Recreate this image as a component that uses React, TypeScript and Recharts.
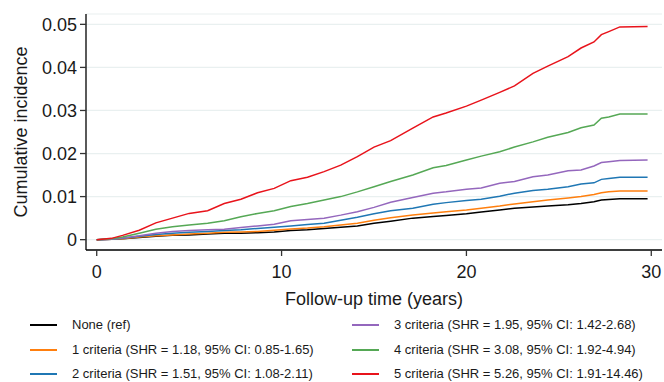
import React from "react";
import { LineChart, Line, XAxis, YAxis, CartesianGrid } from "recharts";

const times = [0, 0.8, 1.4, 2.3, 3.2, 4.1, 5.0, 6.0, 6.9, 7.8, 8.7, 9.6, 10.5, 11.4, 12.3, 13.2, 14.1, 15.0, 15.9, 17.1, 18.2, 18.9, 20.0, 20.8, 21.8, 22.6, 23.6, 24.4, 25.5, 26.2, 26.9, 27.3, 27.7, 28.3, 29.8];

const none = [0, 0.0001, 0.0002, 0.0005, 0.0008, 0.001, 0.0011, 0.0013, 0.0015, 0.0015, 0.0016, 0.0018, 0.0021, 0.0023, 0.0026, 0.0029, 0.0032, 0.0038, 0.0043, 0.005, 0.0054, 0.0056, 0.006, 0.0064, 0.0069, 0.0073, 0.0076, 0.0078, 0.0081, 0.0084, 0.0088, 0.0092, 0.0093, 0.0095, 0.0095];
const c1 = [0, 0.0001, 0.0002, 0.0006, 0.0009, 0.0011, 0.0013, 0.0015, 0.0017, 0.0018, 0.0019, 0.0022, 0.0025, 0.0027, 0.003, 0.0034, 0.0038, 0.0045, 0.0051, 0.0057, 0.0062, 0.0065, 0.0069, 0.0073, 0.0078, 0.0083, 0.0088, 0.0092, 0.0097, 0.01, 0.0105, 0.0109, 0.0111, 0.0113, 0.0113];
const c2 = [0, 0.0001, 0.0003, 0.0008, 0.0012, 0.0015, 0.0017, 0.0019, 0.0021, 0.0023, 0.0026, 0.0029, 0.0032, 0.0035, 0.0038, 0.0045, 0.0052, 0.006, 0.0067, 0.0073, 0.0082, 0.0086, 0.0091, 0.0094, 0.0101, 0.0108, 0.0114, 0.0117, 0.0123, 0.0129, 0.0132, 0.014, 0.0142, 0.0145, 0.0145];
const c3 = [0, 0.0001, 0.0004, 0.0009, 0.0015, 0.0019, 0.0021, 0.0023, 0.0024, 0.0028, 0.0032, 0.0036, 0.0044, 0.0047, 0.005, 0.0057, 0.0065, 0.0075, 0.0087, 0.0098, 0.0108, 0.0111, 0.0117, 0.012, 0.0131, 0.0135, 0.0146, 0.015, 0.016, 0.0162, 0.0171, 0.0179, 0.0181, 0.0184, 0.0185];
const c4 = [0, 0.0002, 0.0006, 0.0015, 0.0024, 0.003, 0.0034, 0.0038, 0.0044, 0.0053, 0.0061, 0.0067, 0.0077, 0.0084, 0.0092, 0.01, 0.0111, 0.0123, 0.0135, 0.015, 0.0167, 0.0172, 0.0185, 0.0194, 0.0204, 0.0215, 0.0227, 0.0238, 0.0249, 0.026, 0.0266, 0.0282, 0.0285, 0.0292, 0.0292];
const c5 = [0, 0.0003, 0.001, 0.0022, 0.0039, 0.005, 0.0061, 0.0067, 0.0084, 0.0094, 0.0109, 0.0119, 0.0137, 0.0145, 0.0158, 0.0173, 0.0193, 0.0215, 0.023, 0.0259, 0.0285, 0.0294, 0.031, 0.0324, 0.0342, 0.0357, 0.0386, 0.0403, 0.0425, 0.0445, 0.0459, 0.0476, 0.0483, 0.0494, 0.0495];

const seriesKeys = ["none", "c1", "c2", "c3", "c4", "c5"];
const seriesValues = [none, c1, c2, c3, c4, c5];
const seriesLabels = [
  "None (ref)",
  "1 criteria (SHR = 1.18, 95% CI: 0.85-1.65)",
  "2 criteria (SHR = 1.51, 95% CI: 1.08-2.11)",
  "3 criteria (SHR = 1.95, 95% CI: 1.42-2.68)",
  "4 criteria (SHR = 3.08, 95% CI: 1.92-4.94)",
  "5 criteria (SHR = 5.26, 95% CI: 1.91-14.46)",
];
const seriesColors = ["#000000", "#ff7f0e", "#1f77b4", "#9467bd", "#55a855", "#e8131b"];

const xTicks = [0, 10, 20, 30];
const yTicks = [0, 0.01, 0.02, 0.03, 0.04, 0.05];

const data = times.map((t, i) => {
  const row: Record<string, number> = { t };
  seriesKeys.forEach((k, j) => {
    row[k] = seriesValues[j][i];
  });
  return row;
});

const FONT = "'Liberation Sans', Arial, Helvetica, sans-serif";

export default function App() {
  const legendRows = [0, 1, 2];
  return (
    <div style={{ position: "absolute", left: 0, top: 0, width: 664, height: 382, background: "#fff", fontFamily: FONT, overflow: "hidden" }}>
      <LineChart width={664} height={382} data={data} margin={{ top: 14, right: 2, bottom: 72, left: 0 }}>
        <CartesianGrid horizontal={true} vertical={false} stroke="#e9f0f0" strokeWidth={1.2} />
        <XAxis
          dataKey="t"
          type="number"
          domain={[-0.58, 30.58]}
          ticks={xTicks}
          allowDataOverflow
          height={60}
          tickSize={6}
          tickMargin={9}
          stroke="#000"
          axisLine={{ stroke: "#000", strokeWidth: 1.3 }}
          tickLine={{ stroke: "#333", strokeWidth: 1.3 }}
          tick={{ fontSize: 18, fill: "#1a1a1a", fontFamily: FONT }}
          label={{
            content: () => (
              <text x={374} y={305} textAnchor="middle" fontSize={18} fill="#1a1a1a" fontFamily={FONT}>
                Follow-up time (years)
              </text>
            ),
          }}
        />
        <YAxis
          type="number"
          domain={[-0.0024, 0.0524]}
          ticks={yTicks}
          allowDataOverflow
          width={86}
          tickSize={6}
          tickMargin={3}
          tickFormatter={(v: number) => (v === 0 ? "0" : v.toFixed(2))}
          axisLine={{ stroke: "#000", strokeWidth: 1.3 }}
          tickLine={{ stroke: "#333", strokeWidth: 1.3 }}
          tick={{ fontSize: 18, fill: "#1a1a1a", fontFamily: FONT }}
          label={{
            content: () => (
              <text x={21} y={132} transform="rotate(-90 21 132)" textAnchor="middle" dy="0.35em" fontSize={18} fill="#1a1a1a" fontFamily={FONT}>
                Cumulative incidence
              </text>
            ),
          }}
        />
        {seriesKeys.map((k, j) => (
          <Line
            key={k}
            dataKey={k}
            type="linear"
            stroke={seriesColors[j]}
            strokeWidth={1.5}
            dot={false}
            activeDot={false}
            isAnimationActive={false}
          />
        ))}
      </LineChart>
      {seriesLabels.map((label, j) => {
        const col = j < 3 ? 0 : 1;
        const row = legendRows[j % 3];
        const lineX = col === 0 ? 30 : 352;
        const textX = col === 0 ? 72 : 394;
        const cy = 325 + row * 24.5;
        return (
          <React.Fragment key={label}>
            <div style={{ position: "absolute", left: lineX, top: cy - 1, width: 27, height: 2, background: seriesColors[j] }} />
            <div style={{ position: "absolute", left: textX, top: cy - 8, fontSize: 13, lineHeight: "16px", color: "#1a1a1a", whiteSpace: "nowrap" }}>
              {label}
            </div>
          </React.Fragment>
        );
      })}
    </div>
  );
}
